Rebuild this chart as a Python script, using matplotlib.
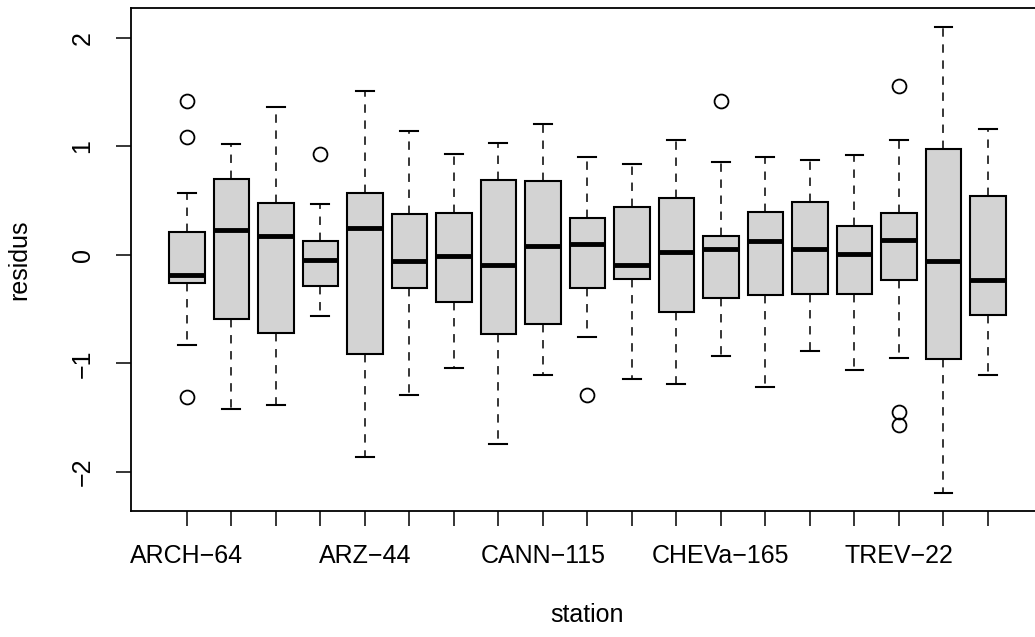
import numpy as np
import matplotlib
matplotlib.use('Agg')
import matplotlib.pyplot as plt

plt.rcParams['font.family'] = ['Liberation Sans', 'DejaVu Sans']

# tick labels (R only prints every 4th station name, the rest are hidden)
stations = ['ARCH\u221264', '', '', '', 'ARZ\u221244', '', '', '', 'CANN\u2212115', '', '', '',
            'CHEVa\u2212165', '', '', '', 'TREV\u221222', '', '']

# five-number summaries
whislo = [-0.83, -1.42, -1.38, -0.56, -1.86, -1.29, -1.04, -1.74, -1.11, -0.76,
          -1.14, -1.19, -0.93, -1.22, -0.89, -1.065, -0.95, -2.19, -1.11]
q1 = [-0.26, -0.59, -0.72, -0.29, -0.91, -0.31, -0.43, -0.73, -0.64, -0.31,
      -0.22, -0.53, -0.40, -0.37, -0.36, -0.36, -0.23, -0.96, -0.555]
med = [-0.19, 0.23, 0.175, -0.045, 0.25, -0.06, -0.01, -0.09, 0.08, 0.10,
       -0.09, 0.03, 0.05, 0.13, 0.05, 0.006, 0.14, -0.06, -0.23]
q3 = [0.21, 0.70, 0.475, 0.13, 0.57, 0.38, 0.39, 0.69, 0.68, 0.335,
      0.44, 0.526, 0.17, 0.395, 0.49, 0.27, 0.39, 0.976, 0.54]
whishi = [0.57, 1.02, 1.36, 0.47, 1.51, 1.14, 0.925, 1.03, 1.21, 0.90,
          0.835, 1.055, 0.855, 0.905, 0.87, 0.92, 1.06, 2.10, 1.16]
outliers = [[1.42, 1.09, -1.31], [], [], [0.93], [], [], [], [], [], [-1.29],
            [], [], [1.42], [], [], [], [1.56, -1.445, -1.565], [], []]

stats = []
for i in range(len(med)):
    stats.append(dict(whislo=whislo[i], q1=q1[i], med=med[i], q3=q3[i],
                      whishi=whishi[i], fliers=outliers[i]))

fig = plt.figure(figsize=(10.35, 6.37), dpi=100)
ax = fig.add_axes([0.1263, 0.1978, 0.8824, 0.7889])

pos = np.arange(1, len(med) + 1)
ax.bxp(stats, positions=pos, widths=0.8, patch_artist=True, showfliers=True,
       boxprops=dict(facecolor='#d3d3d3', edgecolor='black', linewidth=1.5),
       medianprops=dict(color='black', linewidth=3.5, solid_capstyle='butt'),
       whiskerprops=dict(color='black', linewidth=1.1, linestyle=(0, (5.5, 5))),
       capprops=dict(color='black', linewidth=1.5),
       flierprops=dict(marker='o', markerfacecolor='none', markeredgecolor='black',
                       markersize=10, markeredgewidth=1.3))

n = len(med)
ax.set_xlim(0.5 - 0.04 * n, n + 0.5 + 0.04 * n)
ax.set_ylim(-2.36, 2.27)
ax.set_xticks(pos)
ax.set_xticklabels(stations)
ax.set_yticks([-2, -1, 0, 1, 2])
ax.set_yticklabels(['\u22122', '\u22121', '0', '1', '2'], rotation=90, va='center')
ax.tick_params(axis='both', labelsize=18, length=11, width=1.1)
ax.tick_params(axis='x', pad=13)
ax.tick_params(axis='y', pad=15)
for s in ax.spines.values():
    s.set_linewidth(1.3)
ax.set_xlabel('station', fontsize=18, labelpad=25)
ax.set_ylabel('residus', fontsize=18, labelpad=28)

fig.savefig('out.png', dpi=100)
